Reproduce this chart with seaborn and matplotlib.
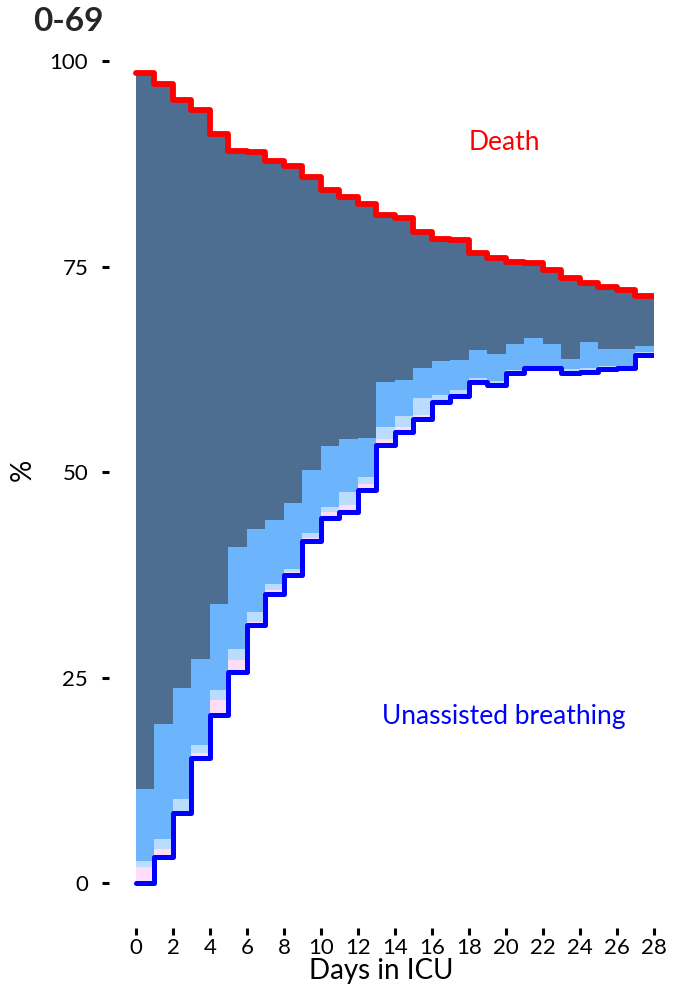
import numpy as np
import matplotlib
matplotlib.use("Agg")
import matplotlib.pyplot as plt
import seaborn as sns

sns.set_theme(style="white")
plt.rcParams["font.family"] = ["Lato", "DejaVu Sans"]

# --------------------------------------
# data: state proportions (%) per day in ICU, age group 0-69
# --------------------------------------
days = list(range(28))
unassisted = [0.0, 3.2, 8.5, 15.2, 20.4, 25.7, 31.4, 35.2, 37.5, 41.6, 44.4, 45.2, 47.8, 53.3,
              54.9, 56.5, 58.5, 59.2, 60.9, 60.6, 62.0, 62.7, 62.6, 62.1, 62.2, 62.5, 62.6, 64.3]
pink_top = [2.0, 4.2, 8.7, 15.8, 22.3, 27.1, 31.8, 35.6, 37.8, 42.0, 45.2, 46.0, 48.6, 54.0,
            55.5, 57.0, 58.8, 59.5, 61.1, 60.8, 62.2, 62.8, 62.7, 62.3, 62.4, 62.7, 62.7, 64.4]
pale_top = [2.7, 5.4, 10.2, 16.8, 23.5, 28.5, 33.0, 36.4, 38.2, 42.6, 45.8, 47.6, 49.4, 55.5,
            56.8, 59.0, 59.4, 60.0, 61.4, 61.1, 62.4, 62.9, 62.8, 62.5, 62.6, 62.9, 62.9, 64.6]
light_top = [11.5, 19.4, 23.7, 27.3, 34.0, 40.9, 43.1, 44.2, 46.2, 50.3, 53.2, 54.0, 54.1, 61.0,
             61.2, 62.7, 63.5, 63.6, 64.9, 64.4, 65.6, 66.3, 65.6, 63.7, 65.8, 65.0, 65.0, 65.3]
alive_top = [98.6, 97.2, 95.3, 94.0, 91.1, 89.1, 88.9, 87.9, 87.2, 85.9, 84.3, 83.5, 82.6, 81.3,
             80.9, 79.2, 78.3, 78.2, 76.6, 76.0, 75.6, 75.4, 74.6, 73.6, 73.0, 72.5, 72.1, 71.4]

x_ticks = list(range(0, 29, 2))
y_ticks = [0, 25, 50, 75, 100]

# close the last step at day 28
x = np.array(days + [28])
def ext(v):
    return np.array(v + [v[-1]])

fig = plt.figure(figsize=(6.74, 9.92), dpi=100)
ax = fig.add_axes([0.1617, 0.0645, 0.8086, 0.880])

ax.fill_between(x, ext(unassisted), ext(pink_top), step="post", color="#ffdcf8", lw=0)
ax.fill_between(x, ext(pink_top), ext(pale_top), step="post", color="#b9dcff", lw=0)
ax.fill_between(x, ext(pale_top), ext(light_top), step="post", color="#6cb5fd", lw=0)
ax.fill_between(x, ext(light_top), ext(alive_top), step="post", color="#4e6e91", lw=0)

sns.lineplot(x=x, y=ext(alive_top), drawstyle="steps-post", color="#ff0000",
             lw=4.2, estimator=None, ax=ax)
sns.lineplot(x=x, y=ext(unassisted), drawstyle="steps-post", color="#0000ff",
             lw=3.6, estimator=None, ax=ax)

ax.text(19.9, 90.1, "Death", color="#ff0000", fontsize=19, ha="center", va="center")
ax.text(19.9, 20.3, "Unassisted breathing", color="#0000ff", fontsize=19,
        ha="center", va="center")

ax.set_xlim(-1.46, 28.0)
ax.set_ylim(-5.47, 100.73)
ax.set_xticks(x_ticks)
ax.set_yticks(y_ticks)
ax.tick_params(axis="both", direction="out", length=5, width=2.2, color="black",
               labelsize=16, labelcolor="black")
ax.tick_params(axis="y", pad=10)
ax.tick_params(axis="x", pad=2)
ax.tick_params(bottom=True, left=True)
for s in ax.spines.values():
    s.set_visible(False)

ax.set_xlabel("Days in ICU", fontsize=20, labelpad=0, color="black")
ax.set_ylabel("%", fontsize=20, color="black")
ax.yaxis.set_label_coords(-0.135, 0.525)

fig.text(0.049, 0.978, "0-69", fontsize=24, fontweight="bold", ha="left", va="center")

fig.savefig("out.png", dpi=100)
